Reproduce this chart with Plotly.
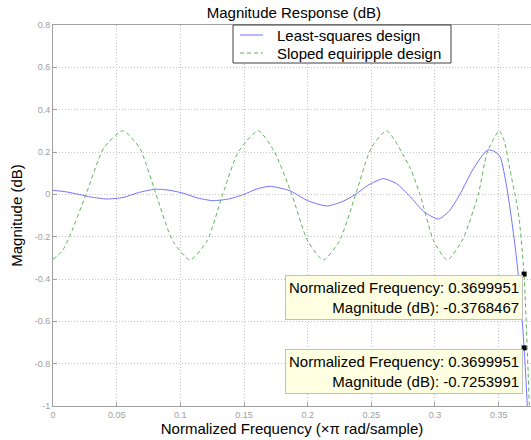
import plotly.graph_objects as go

# ---- data ----
ls_freq = [0.000, 0.010, 0.020, 0.030, 0.0422, 0.055, 0.067, 0.0801, 0.0919, 0.103,
           0.114, 0.1259, 0.138, 0.150, 0.160, 0.1704, 0.1861, 0.200, 0.2150, 0.2270,
           0.2377, 0.2480, 0.2594, 0.2700, 0.2804, 0.2910, 0.3026, 0.3110, 0.3196, 0.3300,
           0.3411, 0.3460, 0.3511, 0.3563, 0.3602, 0.3640, 0.3670, 0.3700, 0.3725, 0.3754]
ls_mag = [0.019, 0.012, 0.000, -0.013, -0.022, -0.015, 0.008, 0.024, 0.019, 0.004,
          -0.018, -0.030, -0.022, 0.000, 0.025, 0.038, 0.017, -0.030, -0.055, -0.035,
          0.000, 0.045, 0.074, 0.050, -0.010, -0.080, -0.117, -0.080, 0.000, 0.120,
          0.209, 0.205, 0.178, 0.036, -0.121, -0.300, -0.480, -0.725, -1.000, -1.400]

eq_freq = [0.000, 0.007, 0.013, 0.0259, 0.040, 0.0547, 0.068, 0.0809, 0.094, 0.1076,
           0.121, 0.1333, 0.1455, 0.1612, 0.174, 0.1875, 0.200, 0.2123, 0.225, 0.2377,
           0.250, 0.2621, 0.2804, 0.2882, 0.299, 0.3097, 0.322, 0.3340, 0.3411, 0.3505,
           0.3545, 0.3589, 0.3642, 0.3662, 0.3699, 0.3741, 0.3760]
eq_mag = [-0.307, -0.270, -0.200, 0.000, 0.220, 0.300, 0.220, 0.000, -0.220, -0.310,
          -0.220, 0.000, 0.200, 0.300, 0.200, 0.000, -0.220, -0.310, -0.220, 0.000,
          0.220, 0.300, 0.125, 0.000, -0.220, -0.310, -0.210, 0.000, 0.200, 0.300,
          0.250, 0.115, -0.043, -0.121, -0.377, -1.000, -1.400]

tip_freq = [0.3699951, 0.3699951]
tip_mag = [-0.3768467, -0.7253991]

series_names = ["Least-squares design", "Sloped equiripple design"]
x_ticks = [0, 0.05, 0.1, 0.15, 0.2, 0.25, 0.3, 0.35]
x_tick_text = ["0", "0.05", "0.1", "0.15", "0.2", "0.25", "0.3", "0.35"]
y_ticks = [-1, -0.8, -0.6, -0.4, -0.2, 0, 0.2, 0.4, 0.6, 0.8]
y_tick_text = ["-1", "-0.8", "-0.6", "-0.4", "-0.2", "0", "0.2", "0.4", "0.6", "0.8"]

FONT = "Liberation Sans, Arial, sans-serif"
AXIS_GRAY = "#a0a0a0"
GRID = "#c4c4c4"
BLUE = "#7373ff"
GREEN = "#5fb35f"
DASH = "4px,3px"

# plot-area geometry (pixels) for converting legend placement to paper coords
W, H = 531, 440
L, R, T, B = 53, 0, 25, 34
PW, PH = W - L - R, H - T - B


def px(xp):
    return (xp - L) / PW


def py(yp):
    return (H - B - yp) / PH


fig = go.Figure()
fig.add_trace(go.Scatter(x=ls_freq, y=ls_mag, mode="lines", name=series_names[0],
                         showlegend=False,
                         line=dict(color=BLUE, width=1, shape="spline", smoothing=0.6)))
fig.add_trace(go.Scatter(x=eq_freq, y=eq_mag, mode="lines", name=series_names[1],
                         showlegend=False,
                         line=dict(color=GREEN, width=1, dash=DASH,
                                   shape="spline", smoothing=0.6)))
fig.add_trace(go.Scatter(x=tip_freq, y=tip_mag, mode="markers", showlegend=False,
                         marker=dict(symbol="square", size=5, color="black"),
                         cliponaxis=False))

for f, m in zip(tip_freq, tip_mag):
    fig.add_annotation(x=f, y=m, xref="x", yref="y", showarrow=False,
                       xanchor="right", yanchor="top", align="right", xshift=-1, yshift=-1,
                       text=f"Normalized Frequency: {f:.7f}<br>Magnitude (dB): {m:.7f}",
                       font=dict(family=FONT, size=15, color="black"),
                       bgcolor="#ffffe1", bordercolor="#c0c0c0", borderwidth=1, borderpad=3)

# legend box drawn by hand to match the compact MATLAB legend
fig.add_shape(type="rect", xref="paper", yref="paper",
              x0=px(233), x1=px(451), y0=py(63), y1=py(25),
              line=dict(color="#404040", width=1), fillcolor="white", layer="above")
for i, (name, color, dash) in enumerate(zip(series_names, [BLUE, GREEN], ["solid", DASH])):
    yrow = 35 + 18 * i
    fig.add_shape(type="line", xref="paper", yref="paper",
                  x0=px(240), x1=px(263), y0=py(yrow), y1=py(yrow),
                  line=dict(color=color, width=1, dash=dash), layer="above")
    fig.add_annotation(x=px(275), y=py(yrow), xref="paper", yref="paper", showarrow=False,
                       xanchor="left", yanchor="middle", text=name,
                       font=dict(family=FONT, size=15, color="black"))

fig.update_layout(
    width=W, height=H,
    margin=dict(l=L, r=R, t=T, b=B),
    paper_bgcolor="white", plot_bgcolor="white",
    font=dict(family=FONT, color="black"),
    showlegend=False,
    title=dict(text="Magnitude Response (dB)", x=0.504, xanchor="center",
               xref="paper", yref="container", y=1 - 13 / 440, yanchor="middle",
               font=dict(size=15, color="black")),
    xaxis=dict(range=[0, 0.3754], autorange=False, tickvals=x_ticks, ticktext=x_tick_text,
               showgrid=True, gridcolor=GRID, griddash="1px,2px", gridwidth=1,
               showline=True, linecolor=AXIS_GRAY, linewidth=1, mirror=True,
               ticks="inside", ticklen=4, tickcolor=AXIS_GRAY,
               tickfont=dict(size=9, color=AXIS_GRAY), zeroline=False, automargin=False,
               title=dict(text="Normalized Frequency (×π rad/sample)",
                          font=dict(size=15, color="black"), standoff=4)),
    yaxis=dict(range=[-1, 0.8], autorange=False, tickvals=y_ticks, ticktext=y_tick_text,
               showgrid=True, gridcolor=GRID, griddash="1px,2px", gridwidth=1,
               showline=True, linecolor=AXIS_GRAY, linewidth=1,
               ticks="inside", ticklen=4, tickcolor=AXIS_GRAY,
               tickfont=dict(size=9, color=AXIS_GRAY), zeroline=False, automargin=False,
               title=dict(text="Magnitude (dB)", font=dict(size=15, color="black"),
                          standoff=8)),
)

fig.write_html("out.html")
